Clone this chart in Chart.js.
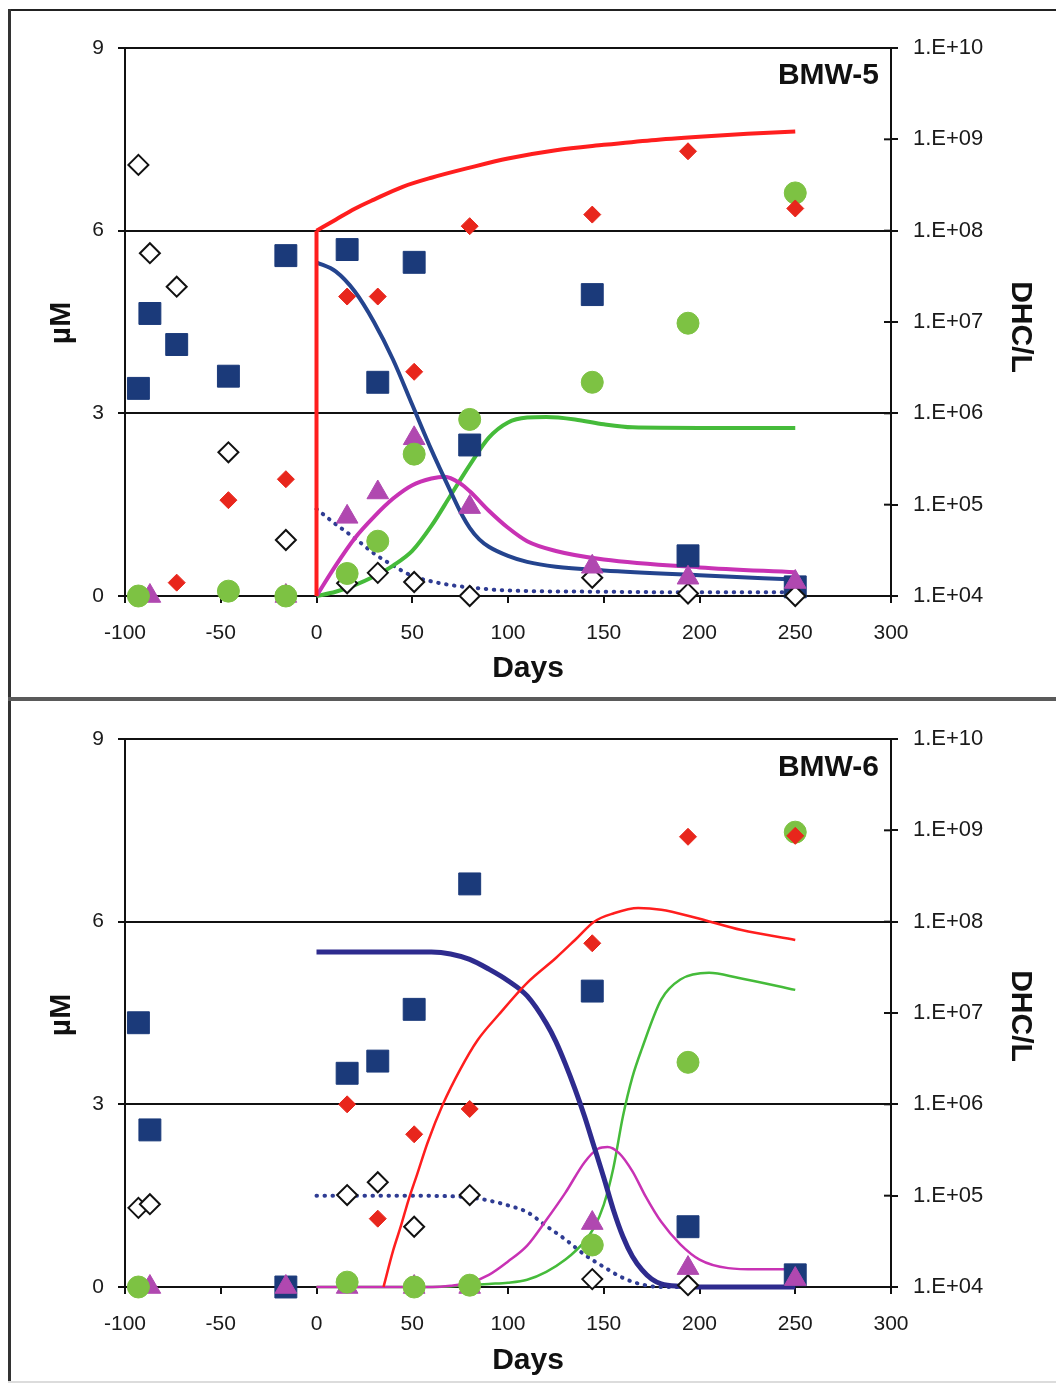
<!DOCTYPE html>
<html><head><meta charset="utf-8">
<script src="https://cdn.jsdelivr.net/npm/chart.js@4.4.1/dist/chart.umd.min.js"></script>
<style>
html,body{margin:0;padding:0;background:#fff;width:1056px;height:1384px;overflow:hidden;}
canvas{position:absolute;left:0;}
.ln{position:absolute;z-index:5;}
</style></head><body>
<canvas id="c1" width="1056" height="697" style="top:0px"></canvas>
<canvas id="c2" width="1056" height="687" style="top:697px"></canvas>
<div class="ln" style="left:8px;top:9px;width:1048px;height:2px;background:#222"></div>
<div class="ln" style="left:8px;top:9px;width:3px;height:1374px;background:#333"></div>
<div class="ln" style="left:8px;top:697px;width:1048px;height:4px;background:#5a5a5a"></div>
<div class="ln" style="left:8px;top:1381px;width:1048px;height:2px;background:#dcdcdc"></div>
<script>
// ---------- shared ----------
const sampleDays = [-93, -87, -73, -46, -16, 16, 32, 51, 80, 144, 194, 250];
const xTickMin = -100, xTickMax = 300, xStep = 50;
const yLeftMin = 0, yLeftMax = 9, yLeftStep = 3;
const dhcDecades = [1e4, 1e5, 1e6, 1e7, 1e8, 1e9, 1e10];

// ---------- BMW-5 measured ----------
const bmw5_square   = [3.41, 4.64, 4.13, 3.61, 5.59, 5.69, 3.51, 5.48, 2.48, 4.95, 0.66, 0.15];
const bmw5_openDiam = [7.08, 5.63, 5.08, 2.36, 0.92, 0.21, 0.38, 0.23, 0, 0.3, 0.04, 0];
const bmw5_triangle = [null, 0, null, null, 0, 1.3, 1.7, 2.59, 1.46, 0.48, 0.3, 0.23];
const bmw5_circle   = [0, null, null, 0.08, 0, 0.37, 0.9, 2.33, 2.9, 3.51, 4.48, 6.62];
const bmw5_dhc      = [null, null, 1.4e4, 1.12e5, 1.9e5, 1.9e7, 1.9e7, 2.85e6, 1.12e8, 1.5e8, 7.4e8, 1.75e8];

// ---------- BMW-5 model curves ----------
const bmw5_dhcModelDays = [0, 10, 20, 30, 45, 60, 80, 100, 125, 150, 175, 200, 225, 250];
const bmw5_dhcModel     = [1e8, 1.32e8, 1.74e8, 2.19e8, 3.02e8, 3.8e8, 4.9e8, 6.17e8, 7.6e8, 8.7e8, 9.8e8, 1.07e9, 1.15e9, 1.22e9];
const bmw5_blueDays = [0, 10, 20, 30, 40, 50, 60, 70, 76, 80, 85, 90, 100, 110, 125, 150, 200, 250];
const bmw5_blue     = [5.48, 5.33, 5.0, 4.5, 3.88, 3.14, 2.4, 1.72, 1.33, 1.12, 0.93, 0.81, 0.66, 0.56, 0.48, 0.42, 0.34, 0.27];
const bmw5_magDays  = [0, 10, 20, 30, 40, 50, 60, 67, 75, 80, 90, 100, 110, 125, 150, 200, 250];
const bmw5_mag      = [0, 0.5, 0.95, 1.3, 1.6, 1.82, 1.93, 1.96, 1.85, 1.72, 1.4, 1.12, 0.9, 0.74, 0.6, 0.47, 0.39];
const bmw5_grnDays  = [0, 10, 20, 30, 40, 50, 60, 70, 80, 90, 100, 110, 120, 135, 150, 165, 200, 250];
const bmw5_grn      = [0, 0.07, 0.18, 0.32, 0.5, 0.74, 1.15, 1.65, 2.15, 2.6, 2.85, 2.93, 2.94, 2.9, 2.82, 2.77, 2.76, 2.76];
const bmw5_dotDays  = [0, 10, 20, 30, 40, 50, 60, 70, 80, 100, 150, 200, 250];
const bmw5_dot      = [1.43, 1.18, 0.95, 0.7, 0.5, 0.33, 0.24, 0.18, 0.14, 0.09, 0.07, 0.06, 0.06];

// ---------- BMW-6 measured ----------
const bmw6_square   = [4.34, 2.58, null, null, 0, 3.51, 3.71, 4.56, 6.62, 4.86, 0.99, 0.2];
const bmw6_openDiam = [1.3, 1.36, null, null, null, 1.51, 1.72, 0.99, 1.51, 0.13, 0.03, null];
const bmw6_triangle = [null, 0, null, null, 0, 0, null, 0, 0, 1.05, 0.31, 0.13];
const bmw6_circle   = [0, null, null, null, null, 0.08, null, 0, 0.03, 0.69, 3.69, 7.47];
const bmw6_dhc      = [null, null, null, null, null, 1.0e6, 5.6e4, 4.7e5, 8.9e5, 5.8e7, 8.5e8, 8.7e8];

// ---------- BMW-6 model curves ----------
const bmw6_dhcModelDays = [35, 40, 44, 48, 52.5, 58, 66, 75, 84, 95, 110, 125, 135, 145, 155, 168, 180, 197, 222, 250];
const bmw6_dhcModel     = [1e4, 2.5e4, 4.6e4, 8.9e4, 1.7e5, 3.8e5, 1.0e6, 2.4e6, 5.0e6, 9.5e6, 2.14e7, 4.0e7, 6.3e7, 1.0e8, 1.23e8, 1.41e8, 1.35e8, 1.12e8, 8.1e7, 6.3e7];
const bmw6_blueDays = [0, 20, 40, 60, 70, 80, 90, 100, 110, 120, 125, 130, 135, 140, 145, 150, 155, 160, 165, 170, 175, 180, 190, 200, 250];
const bmw6_blue     = [5.5, 5.5, 5.5, 5.5, 5.47, 5.38, 5.22, 5.03, 4.78, 4.33, 4.03, 3.66, 3.25, 2.8, 2.3, 1.8, 1.27, 0.83, 0.5, 0.28, 0.13, 0.05, 0.01, 0, 0];
const bmw6_magDays  = [0, 60, 70, 80, 90, 100, 110, 120, 130, 140, 147, 152, 158, 165, 172, 180, 190, 200, 215, 230, 250];
const bmw6_mag      = [0, 0, 0.02, 0.07, 0.2, 0.42, 0.68, 1.1, 1.55, 2.05, 2.27, 2.3, 2.2, 1.9, 1.48, 1.07, 0.7, 0.45, 0.31, 0.29, 0.29];
const bmw6_grnDays  = [0, 50, 70, 80, 90, 100, 110, 120, 130, 140, 145, 150, 155, 160, 165, 170, 180, 190, 205, 220, 250];
const bmw6_grn      = [0, 0, 0.01, 0.03, 0.05, 0.07, 0.12, 0.25, 0.45, 0.75, 0.98, 1.35, 1.95, 2.8, 3.45, 3.92, 4.72, 5.05, 5.16, 5.08, 4.88];
const bmw6_dotDays  = [0, 40, 70, 80, 90, 100, 110, 120, 130, 140, 150, 160, 170, 180, 250];
const bmw6_dot      = [1.5, 1.5, 1.49, 1.47, 1.42, 1.34, 1.23, 1.0, 0.78, 0.53, 0.33, 0.15, 0.04, 0, 0];

// ---------- helpers ----------
const FONT = "'Liberation Sans', Arial, Helvetica, sans-serif";
function pts(xs, ys) {
  return xs.map((x, i) => ({x: x, y: ys[i]})).filter(p => p.y !== null && p.y !== undefined);
}
function markers(label, ys, axis, style, radius, bg, border, bw) {
  return { type: 'scatter', label, data: pts(sampleDays, ys), yAxisID: axis, showLine: false,
    pointStyle: style, pointRadius: radius, pointHoverRadius: radius,
    pointBackgroundColor: bg, pointBorderColor: border, pointBorderWidth: bw, clip: false };
}
function curve(label, xs, ys, axis, color, width, dotted, straight) {
  return { type: 'line', label, data: pts(xs, ys), yAxisID: axis, xAxisID: 'x', showLine: true,
    borderColor: color, borderWidth: width, pointRadius: 0, pointHoverRadius: 0, fill: false,
    cubicInterpolationMode: straight ? 'default' : 'monotone', tension: straight ? 0 : 0.4,
    borderDash: dotted ? [0.5, 7.5] : [], borderCapStyle: dotted ? 'round' : 'butt',
    borderJoinStyle: 'round', clip: false };
}
function expLabel(v) {
  const e = Math.round(Math.log10(v));
  return '1.E+' + String(e).padStart(2, '0');
}
function textPlugin(cfg) {
  return {
    id: 'panelText',
    afterDraw(chart) {
      const ctx = chart.ctx, ca = chart.chartArea, y2 = chart.scales.y2;
      ctx.save();
      ctx.strokeStyle = '#111'; ctx.lineWidth = 2;
      y2.ticks.forEach(t => {
        const py = y2.getPixelForValue(t.value);
        ctx.beginPath(); ctx.moveTo(ca.right - 7, py); ctx.lineTo(ca.right, py); ctx.stroke();
      });
      ctx.fillStyle = '#111';
      ctx.font = 'bold 30px ' + FONT;
      ctx.textBaseline = 'middle';
      ctx.textAlign = 'right';
      ctx.fillText(cfg.title, cfg.titleX, cfg.titleY);
      ctx.textAlign = 'center';
      ctx.fillText('Days', cfg.daysX, cfg.daysY);
      ctx.save(); ctx.translate(cfg.umX, cfg.umY); ctx.rotate(-Math.PI / 2);
      ctx.fillText('µM', 0, 0); ctx.restore();
      ctx.save(); ctx.translate(cfg.dhcX, cfg.dhcY); ctx.rotate(Math.PI / 2);
      ctx.fillText('DHC/L', 0, 0); ctx.restore();
      ctx.restore();
    }
  };
}
function makeChart(canvasId, m, topPad, xHeight, cfg) {
  const datasets = [
    markers('Dhc', m.dhc, 'y2', 'rectRot', 8.5, '#E8261C', '#E8261C', 1),
    markers('Ethene', m.circle, 'y', 'circle', 11, '#7DC243', '#7DC243', 1),
    markers('VC', m.triangle, 'y', 'triangle', 12.5, '#B048B0', '#B048B0', 1),
    markers('TCE', m.openDiam, 'y', 'rectRot', 10, '#ffffff', '#111111', 2),
    markers('cDCE', m.square, 'y', 'rect', 15.5, '#1B3A7A', '#1B3A7A', 1),
  ];
  m.lines.forEach(l => datasets.push(l));
  return new Chart(document.getElementById(canvasId), {
    type: 'scatter',
    data: { datasets },
    options: {
      responsive: false, animation: false, devicePixelRatio: 1,
      layout: { padding: { top: topPad, left: 0, right: 0, bottom: 0 } },
      plugins: { legend: { display: false }, tooltip: { enabled: false } },
      scales: {
        x: {
          type: 'linear', position: 'bottom', min: xTickMin, max: xTickMax,
          afterFit(s) { s.height = xHeight; },
          ticks: { stepSize: xStep, maxRotation: 0, autoSkip: false, padding: 18, color: '#1a1a1a', font: { family: FONT, size: 21 } },
          grid: { drawOnChartArea: false, drawTicks: true, tickLength: 7, color: '#111', lineWidth: 2 },
          border: { display: true, color: '#111', width: 2 }
        },
        y: {
          type: 'linear', position: 'left', min: yLeftMin, max: yLeftMax,
          afterFit(s) { s.width = 125; },
          ticks: { stepSize: yLeftStep, padding: 14, color: '#1a1a1a', font: { family: FONT, size: 21 } },
          grid: { drawOnChartArea: true, drawTicks: true, tickLength: 7, color: '#111', lineWidth: 2 },
          border: { display: true, color: '#111', width: 2 }
        },
        y2: {
          type: 'logarithmic', position: 'right', min: dhcDecades[0], max: dhcDecades[dhcDecades.length - 1],
          afterFit(s) { s.width = 165; },
          afterBuildTicks(s) { s.ticks = dhcDecades.map(v => ({ value: v })); },
          ticks: { callback: v => expLabel(v), padding: 15, color: '#1a1a1a', font: { family: FONT, size: 22 }, autoSkip: false },
          grid: { drawOnChartArea: false, drawTicks: true, tickLength: 7, color: '#111', lineWidth: 2 },
          border: { display: true, color: '#111', width: 2 }
        }
      }
    },
    plugins: [textPlugin(cfg)]
  });
}

// ---------- BMW-5 ----------
makeChart('c1', {
  dhc: bmw5_dhc, circle: bmw5_circle, triangle: bmw5_triangle, openDiam: bmw5_openDiam, square: bmw5_square,
  lines: [
    curve('Dhc model', bmw5_dhcModelDays, bmw5_dhcModel, 'y2', '#FF1E1E', 4),
    curve('Dhc model start', [0, 0], [dhcDecades[0], bmw5_dhcModel[0]], 'y2', '#FF1E1E', 4, false, true),
    curve('cDCE model', bmw5_blueDays, bmw5_blue, 'y', '#24448E', 4),
    curve('VC model', bmw5_magDays, bmw5_mag, 'y', '#C832B4', 4),
    curve('Ethene model', bmw5_grnDays, bmw5_grn, 'y', '#45BB3A', 4),
    curve('TCE model', bmw5_dotDays, bmw5_dot, 'y', '#2F3C93', 4, true),
  ]
}, 48, 101, { title: 'BMW-5', titleX: 879, titleY: 76, daysX: 528, daysY: 669, umX: 62, umY: 323, dhcX: 1020, dhcY: 327 });

// ---------- BMW-6 ----------
makeChart('c2', {
  dhc: bmw6_dhc, circle: bmw6_circle, triangle: bmw6_triangle, openDiam: bmw6_openDiam, square: bmw6_square,
  lines: [
    curve('Dhc model', bmw6_dhcModelDays, bmw6_dhcModel, 'y2', '#FF1E1E', 2.5),
    curve('cDCE model', bmw6_blueDays, bmw6_blue, 'y', '#2E2B8E', 5),
    curve('VC model', bmw6_magDays, bmw6_mag, 'y', '#C832B4', 2.5),
    curve('Ethene model', bmw6_grnDays, bmw6_grn, 'y', '#45BB3A', 2.5),
    curve('TCE model', bmw6_dotDays, bmw6_dot, 'y', '#2F3C93', 4, true),
  ]
}, 42, 97, { title: 'BMW-6', titleX: 879, titleY: 71, daysX: 528, daysY: 664, umX: 62, umY: 318, dhcX: 1020, dhcY: 319 });
</script>
</body></html>
